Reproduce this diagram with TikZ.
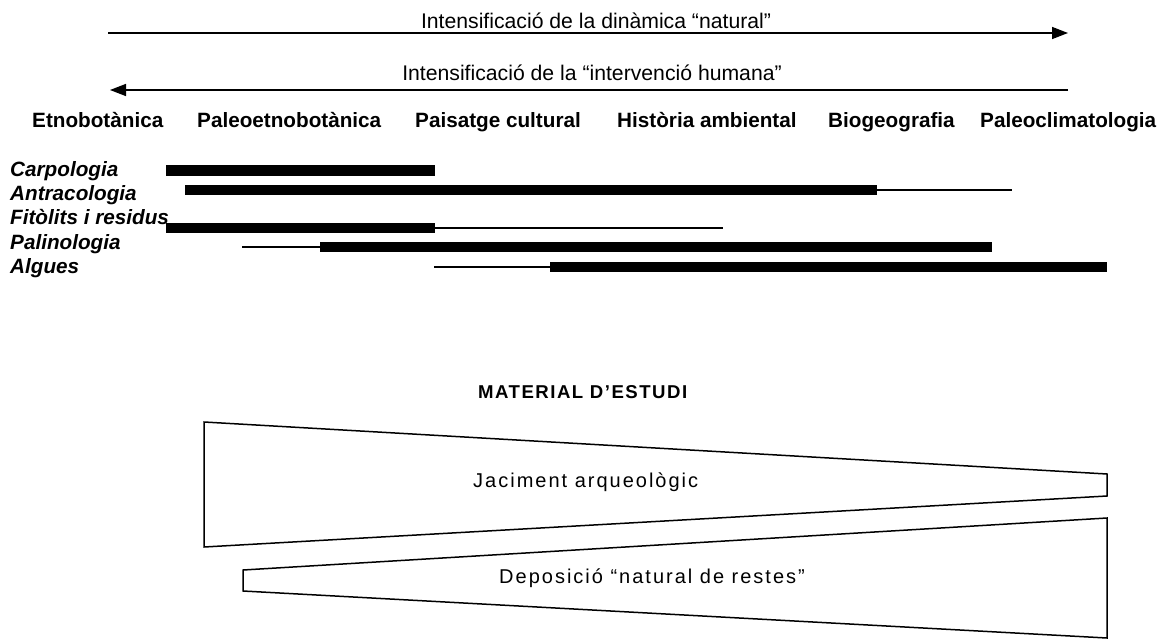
\documentclass[tikz,border=0pt]{standalone}
\usepackage{fontspec}
\setmainfont{Liberation Sans}
\usetikzlibrary{arrows.meta}

\begin{document}
\begin{tikzpicture}[x=1pt,y=-1pt,
  thickbar/.style={line width=10.5pt},
  thinbar/.style={line width=2pt},
  trend/.style={line width=1.5pt,-{Triangle[length=16pt,width=12pt]}},
  trendtext/.style={anchor=base,inner sep=0pt,font=\fontsize{21.2}{24}\selectfont},
  field/.style={anchor=base west,inner sep=0pt,font=\fontsize{20.7}{24}\selectfont\bfseries},
  technique/.style={anchor=base west,inner sep=0pt,font=\fontsize{20.7}{24}\selectfont\bfseries\itshape},
  spaced/.style={anchor=base west,inner sep=0pt,font=\fontsize{20}{24}\selectfont\addfontfeature{LetterSpace=10}},
  wedge/.style={line width=1.5pt,line join=miter}]
  \useasboundingbox (0,0) rectangle (1169,642);
  % the two directions
  \coordinate (natL) at (108,33);
  \coordinate (natR) at (1068,33);
  \coordinate (humR) at (1068,90);
  \coordinate (humL) at (110,90);
  \draw[trend] (natL) -- (natR);
  \draw[trend] (humR) -- (humL);
  \node[trendtext] (natText) at (596,29) {Intensificació de la dinàmica “natural”};
  \node[trendtext] (humText) at (592,81) {Intensificació de la “intervenció humana”};
  % disciplines
  \node[field] (etno) at (32,127) {Etnobotànica};
  \node[field] (paleoetno) at (197,127) {Paleoetnobotànica};
  \node[field] (paisatge) at (415,127) {Paisatge cultural};
  \node[field] (historia) at (617,127) {Història ambiental};
  \node[field] (biogeo) at (828,127) {Biogeografia};
  \node[field] (paleoclima) at (980,127) {Paleoclimatologia};
  % techniques
  \node[technique] (carpo) at (10,176) {Carpologia};
  \node[technique] (antraco) at (10,200) {Antracologia};
  \node[technique] (fitolits) at (10,224) {Fitòlits i residus};
  \node[technique] (palino) at (10,249) {Palinologia};
  \node[technique] (algues) at (10,273) {Algues};
  \draw[thickbar] (166,170.5) -- (435,170.5);
  \draw[thickbar] (185,190) -- (877,190);
  \draw[thinbar] (877,190) -- (1012,190);
  \draw[thickbar] (166,228) -- (435,228);
  \draw[thinbar] (435,228) -- (723,228);
  \draw[thinbar] (242,247) -- (320,247);
  \draw[thickbar] (320,247) -- (992,247);
  \draw[thinbar] (434,267) -- (550,267);
  \draw[thickbar] (550,267) -- (1107,267);
  % material
  \node[anchor=base west,inner sep=0pt,font=\fontsize{18.6}{22}\selectfont\bfseries\addfontfeature{LetterSpace=8}] (material) at (478,398) {MATERIAL D’ESTUDI};
  \draw[wedge] (204,422) -- (1107,474) -- (1107,496) -- (204,547) -- cycle;
  \draw[wedge] (243,570) -- (1107,518) -- (1107,638) -- (243,591) -- cycle;
  \node[spaced] (jaciment) at (473,487) {Jaciment arqueològic};
  \node[spaced] (deposicio) at (499,583) {Deposició “natural de restes”};
\end{tikzpicture}
\end{document}
